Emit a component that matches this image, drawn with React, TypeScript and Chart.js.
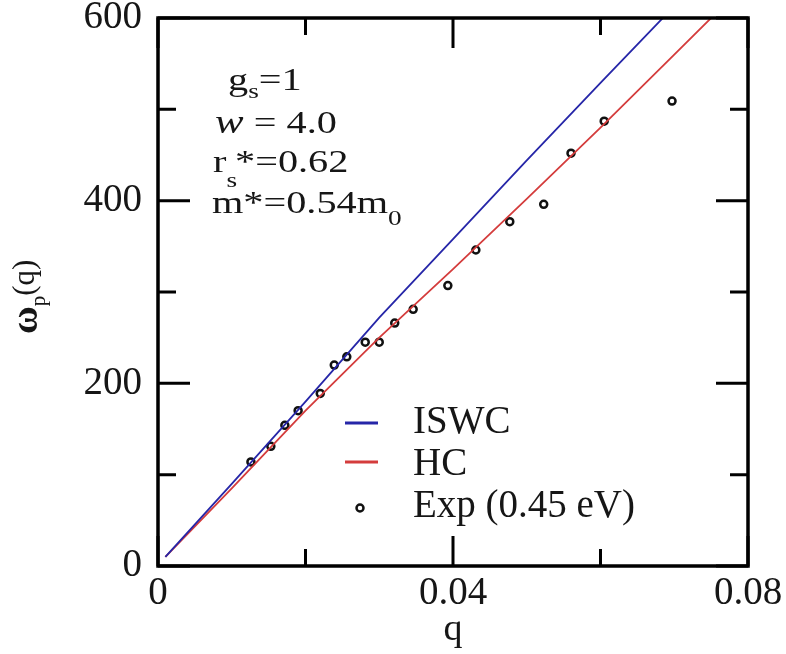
import React, { useEffect, useRef } from "react";
import { Chart, registerables } from "chart.js";

Chart.register(...registerables);

// Plasmon dispersion: theory curves on a shared q grid
const qGrid = [0.001, 0.01, 0.02, 0.03, 0.04, 0.05, 0.06, 0.07, 0.08];
const iswcOmega = [10, 90, 180, 272, 358, 444, 529, 613, 698];
const hcOmega = [10, 85, 170, 250, 325, 402, 480, 560, 640];

// Measured points
const expQ = [
  0.0126, 0.0153, 0.0172, 0.019, 0.022, 0.0239, 0.0256, 0.0281, 0.03,
  0.0321, 0.0346, 0.0393, 0.0431, 0.0477, 0.0523, 0.056, 0.0605, 0.0697,
];
const expOmega = [
  114, 131, 154, 170, 189, 220, 229, 245, 245, 266, 281, 307, 346, 377, 396,
  452, 487, 509,
];

const seriesLabels = ["ISWC", "HC", "Exp (0.45 eV)"];

// Axis ticks
const xTickValues = [0, 0.04, 0.08];
const xTickLabels = ["0", "0.04", "0.08"];
const xMinorTicks = [0.02, 0.06];
const yTickValues = [0, 200, 400, 600];
const yTickLabels = ["0", "200", "400", "600"];
const yMinorTicks = [100, 300, 500];

const SERIF = '"Liberation Serif", "Times New Roman", serif';
const BLUE = "#2626a8";
const RED = "#d43c3c";
const INK = "#161616";

type Run = { t: string; size: number; dy?: number; italic?: boolean; bold?: boolean };

function drawRuns(ctx: CanvasRenderingContext2D, runs: Run[], x0: number, y0: number) {
  let x = x0;
  for (const r of runs) {
    ctx.font = `${r.italic ? "italic " : ""}${r.bold ? "bold " : ""}${r.size}px ${SERIF}`;
    ctx.fillText(r.t, x, y0 + (r.dy || 0));
    x += ctx.measureText(r.t).width;
  }
  return x;
}

const decorPlugin = {
  id: "decor",
  beforeDraw(chart: any) {
    const ctx = chart.ctx as CanvasRenderingContext2D;
    ctx.save();
    ctx.fillStyle = "#ffffff";
    ctx.fillRect(0, 0, chart.width, chart.height);
    ctx.restore();
  },
  afterDatasetsDraw(chart: any) {
    const ctx = chart.ctx as CanvasRenderingContext2D;
    const { left, right, top, bottom } = chart.chartArea;
    const xs = chart.scales.x;
    const ys = chart.scales.y;
    ctx.save();

    // frame
    ctx.strokeStyle = "#000";
    ctx.lineWidth = 3.5;
    ctx.strokeRect(left, top, right - left, bottom - top);

    // inward tick marks on all four sides
    ctx.lineWidth = 3;
    const majorLen = 30;
    const minorLen = 17;
    const xTicks = [
      ...xTickValues.map((v) => [v, majorLen]),
      ...xMinorTicks.map((v) => [v, minorLen]),
    ];
    for (const [v, len] of xTicks) {
      const px = xs.getPixelForValue(v);
      ctx.beginPath();
      ctx.moveTo(px, bottom);
      ctx.lineTo(px, bottom - len);
      ctx.moveTo(px, top);
      ctx.lineTo(px, top + len);
      ctx.stroke();
    }
    const yTicks = [
      ...yTickValues.map((v) => [v, 32]),
      ...yMinorTicks.map((v) => [v, 18]),
    ];
    for (const [v, len] of yTicks) {
      const py = ys.getPixelForValue(v);
      ctx.beginPath();
      ctx.moveTo(left, py);
      ctx.lineTo(left + len, py);
      ctx.moveTo(right, py);
      ctx.lineTo(right - len, py);
      ctx.stroke();
    }

    // legend
    const ds = chart.data.datasets;
    ctx.fillStyle = INK;
    ctx.textAlign = "left";
    ctx.textBaseline = "alphabetic";
    ctx.font = `39px ${SERIF}`;
    ctx.lineWidth = 3;
    ctx.strokeStyle = ds[0].borderColor;
    ctx.beginPath();
    ctx.moveTo(345, 423);
    ctx.lineTo(378, 423);
    ctx.stroke();
    ctx.fillText(ds[0].label, 413, 433);
    ctx.strokeStyle = ds[1].borderColor;
    ctx.beginPath();
    ctx.moveTo(345, 462);
    ctx.lineTo(378, 462);
    ctx.stroke();
    ctx.fillText(ds[1].label, 413, 475);
    ctx.strokeStyle = ds[2].borderColor;
    ctx.lineWidth = 2.5;
    ctx.beginPath();
    ctx.arc(360, 508, 3.5, 0, Math.PI * 2);
    ctx.stroke();
    ctx.fillText(ds[2].label, 413, 517);

    // parameter block
    const stretch = 1.3;
    const block: [number, number, Run[]][] = [
      [228, 90, [
        { t: "g", size: 31 },
        { t: "s", size: 21, dy: 8 },
        { t: "=1", size: 31 },
      ]],
      [215, 133, [
        { t: "w", size: 33, italic: true },
        { t: " = 4.0", size: 31 },
      ]],
      [213, 172, [
        { t: "r", size: 31 },
        { t: "s", size: 21, dy: 15 },
      ]],
      [212, 213, [
        { t: "m*=0.54m", size: 31 },
        { t: "0", size: 21, dy: 12 },
      ]],
    ];
    for (const [bx, by, runs] of block) {
      ctx.save();
      ctx.translate(bx, by);
      ctx.scale(stretch, 1);
      drawRuns(ctx, runs, 0, 0);
      ctx.restore();
    }
    ctx.save();
    ctx.translate(235, 172);
    ctx.scale(stretch, 1);
    drawRuns(ctx, [{ t: "*=0.62", size: 31 }], 0, 0);
    ctx.restore();

    // axis titles
    ctx.font = `38px ${SERIF}`;
    ctx.textAlign = "center";
    ctx.fillText("q", 453, 640);

    ctx.save();
    ctx.translate(37, 334);
    ctx.rotate(-Math.PI / 2);
    ctx.textAlign = "left";
    drawRuns(ctx, [
      { t: "ω", size: 38, bold: true },
      { t: "p", size: 21, dy: 8 },
      { t: "(q)", size: 31, dy: -3 },
    ], 0, 0);
    ctx.restore();

    ctx.restore();
  },
};

export default function App() {
  const canvasRef = useRef<HTMLCanvasElement | null>(null);

  useEffect(() => {
    const canvas = canvasRef.current;
    if (!canvas) return;

    const chart = new Chart(canvas, {
      type: "scatter",
      data: {
        datasets: [
          {
            label: seriesLabels[0],
            data: qGrid.map((q, i) => ({ x: q, y: iswcOmega[i] })),
            showLine: true,
            borderColor: BLUE,
            borderWidth: 1.8,
            pointRadius: 0,
            pointHoverRadius: 0,
          },
          {
            label: seriesLabels[1],
            data: qGrid.map((q, i) => ({ x: q, y: hcOmega[i] })),
            showLine: true,
            borderColor: RED,
            borderWidth: 1.8,
            pointRadius: 0,
            pointHoverRadius: 0,
          },
          {
            label: seriesLabels[2],
            data: expQ.map((q, i) => ({ x: q, y: expOmega[i] })),
            showLine: false,
            borderColor: "#111",
            backgroundColor: "rgba(255,255,255,0)",
            borderWidth: 2.5,
            pointRadius: 3.5,
            pointStyle: "circle",
          },
        ],
      },
      options: {
        responsive: false,
        animation: false,
        events: [],
        layout: { padding: { left: 0, top: 18, right: 38, bottom: 0 } },
        plugins: {
          legend: { display: false },
          tooltip: { enabled: false },
          title: { display: false },
        },
        scales: {
          x: {
            type: "linear",
            min: 0,
            max: 0.08,
            grid: { display: false, drawTicks: false },
            border: { display: false },
            afterBuildTicks: (scale: any) => {
              scale.ticks = xTickValues.map((v) => ({ value: v }));
            },
            afterFit: (scale: any) => {
              scale.height = 88;
              scale.paddingLeft = 0;
              scale.paddingRight = 0;
            },
            ticks: {
              autoSkip: false,
              maxRotation: 0,
              padding: 4,
              color: INK,
              font: { family: SERIF, size: 39 },
              callback: (v: any) => {
                const i = xTickValues.findIndex((t) => Math.abs(t - Number(v)) < 1e-9);
                return i >= 0 ? xTickLabels[i] : "";
              },
            },
          },
          y: {
            type: "linear",
            min: 0,
            max: 600,
            grid: { display: false, drawTicks: false },
            border: { display: false },
            afterBuildTicks: (scale: any) => {
              scale.ticks = yTickValues.map((v) => ({ value: v }));
            },
            afterFit: (scale: any) => {
              scale.width = 158;
              scale.paddingTop = 0;
              scale.paddingBottom = 0;
            },
            ticks: {
              padding: 16,
              color: INK,
              font: { family: SERIF, size: 39 },
              callback: (v: any) => {
                const i = yTickValues.indexOf(Number(v));
                return i >= 0 ? yTickLabels[i] : "";
              },
            },
          },
        },
      },
      plugins: [decorPlugin],
    });

    return () => chart.destroy();
  }, []);

  return (
    <div style={{ position: "absolute", left: 0, top: 0, width: 786, height: 654, background: "#fff" }}>
      <canvas ref={canvasRef} width={786} height={654} style={{ width: 786, height: 654 }} />
    </div>
  );
}
